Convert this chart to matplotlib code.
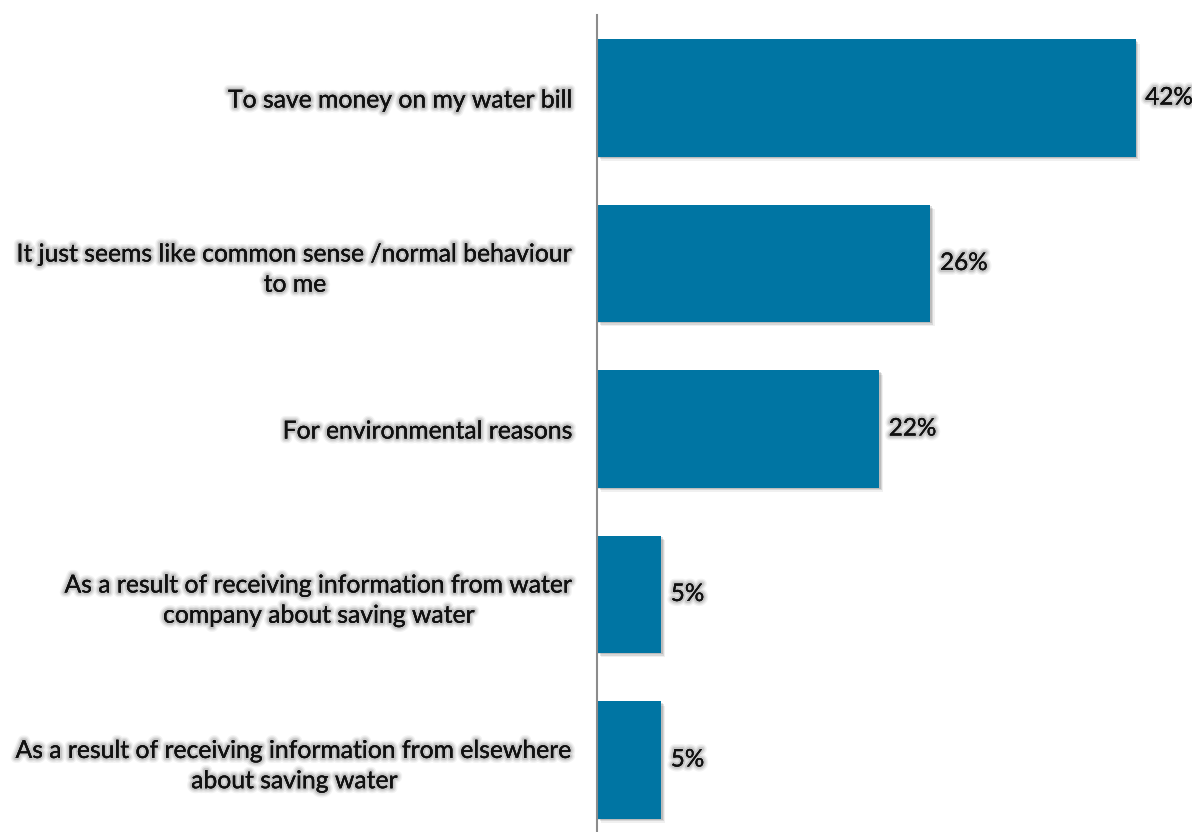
import numpy as np
import matplotlib
matplotlib.use("Agg")
import matplotlib.pyplot as plt
import matplotlib.patheffects as pe

categories = [
    "To save money on my water bill",
    "It just seems like common sense /normal behaviour\nto me",
    "For environmental reasons",
    "As a result of receiving information from water\ncompany about saving water",
    "As a result of receiving information from elsewhere\nabout saving water",
]
values = [42, 26, 22, 5, 5]

bar_color = "#0075a3"

# soft grey halo behind text
glow = [
    pe.withStroke(linewidth=7, foreground="#9a9a9a", alpha=0.12),
    pe.withStroke(linewidth=5, foreground="#9a9a9a", alpha=0.2),
    pe.withStroke(linewidth=3, foreground="#9a9a9a", alpha=0.35),
    pe.Normal(),
]
bar_shadow = [
    pe.SimplePatchShadow(offset=(3, -3), shadow_rgbFace="#000000", alpha=0.06),
    pe.SimplePatchShadow(offset=(2, -2), shadow_rgbFace="#000000", alpha=0.1),
    pe.SimplePatchShadow(offset=(1, -1), shadow_rgbFace="#000000", alpha=0.12),
    pe.Normal(),
]

plt.rcParams['font.family'] = ['Lato', 'DejaVu Sans']

fig = plt.figure(figsize=(11.92, 8.32), dpi=100)
ax = fig.add_axes([597 / 1192, -10.75 / 832, 595 / 1192, 827.5 / 832])

y = np.arange(len(categories))
bars = ax.barh(y, values, height=0.707, color=bar_color, zorder=2)
for b in bars:
    b.set_path_effects(bar_shadow)

ax.set_xlim(0, 46.4)
ax.set_ylim(len(categories) - 0.5, -0.5)

for yi, v in zip(y, values):
    ax.text(v + 0.75, yi, f"{v}%", va="center", ha="left", fontsize=17.5,
            color="#111111", path_effects=glow)

ax.set_yticks(y)
ax.set_yticklabels(categories, fontsize=17.8, color="#111111",
                   linespacing=1.38, multialignment="center")
for t in ax.get_yticklabels():
    t.set_path_effects(glow)
ax.tick_params(axis="y", length=0, pad=17)
ax.set_xticks([])

for s in ["top", "right", "bottom"]:
    ax.spines[s].set_visible(False)
ax.spines["left"].set_color("#8c8c8c")
ax.spines["left"].set_linewidth(1.5)

fig.savefig("out.png", dpi=100)
